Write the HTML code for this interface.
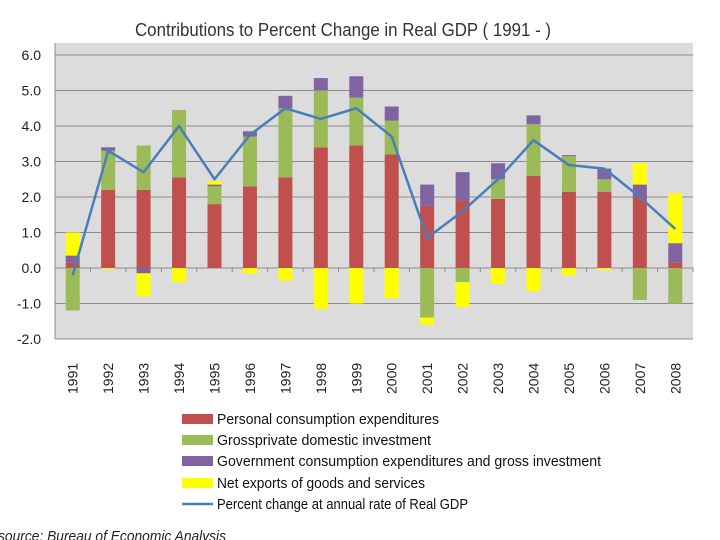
<!DOCTYPE html>
<html><head><meta charset="utf-8"><style>
html,body{margin:0;padding:0;background:#fff;}
svg{display:block;font-family:"Liberation Sans",sans-serif;}
</style></head><body>
<svg id="chart" width="720" height="540" viewBox="0 0 720 540">
<text x="343" y="36" text-anchor="middle" font-size="18" fill="#333" textLength="416" lengthAdjust="spacingAndGlyphs">Contributions to Percent Change in Real GDP ( 1991 -  )</text>
<rect x="55" y="43" width="638" height="296" fill="#dcdcdc"/>
<g id="grid"></g><g id="bars"></g><g id="line"></g><g id="xlabels"></g>
<g>
<rect x="182" y="414" width="31" height="10" fill="#c0504d"/>
<text x="217" y="424" font-size="15" fill="#111" textLength="222" lengthAdjust="spacingAndGlyphs">Personal consumption expenditures</text>
<rect x="182" y="435" width="31" height="10" fill="#9bbb59"/>
<text x="217" y="445" font-size="15" fill="#111" textLength="214" lengthAdjust="spacingAndGlyphs">Grossprivate domestic investment</text>
<rect x="182" y="456" width="31" height="10" fill="#8064a2"/>
<text x="217" y="466" font-size="15" fill="#111" textLength="384" lengthAdjust="spacingAndGlyphs">Government consumption expenditures and gross investment</text>
<rect x="182" y="478" width="31" height="10" fill="#ffff00"/>
<text x="217" y="488" font-size="15" fill="#111" textLength="208" lengthAdjust="spacingAndGlyphs">Net exports of goods and services</text>
<line x1="182" y1="504" x2="213" y2="504" stroke="#4a7ebb" stroke-width="2.5"/>
<text x="217" y="509" font-size="15" fill="#111" textLength="251" lengthAdjust="spacingAndGlyphs">Percent change at annual rate of Real GDP</text>
</g>
<text x="-2" y="541" font-size="15" font-style="italic" fill="#222" textLength="228" lengthAdjust="spacingAndGlyphs">source: Bureau of Economic Analysis</text>
</svg>
<script>
const years=["1991","1992","1993","1994","1995","1996","1997","1998","1999","2000","2001","2002","2003","2004","2005","2006","2007","2008"];
const consumption=[0.15,2.2,2.2,2.55,1.8,2.3,2.55,3.4,3.45,3.2,1.75,1.9,1.95,2.6,2.15,2.15,2.0,0.15];
const investment=[-1.2,1.1,1.25,1.9,0.5,1.4,1.95,1.6,1.35,0.95,-1.4,-0.4,0.55,1.45,1.0,0.35,-0.9,-1.0];
const government=[0.2,0.1,-0.15,0.0,0.05,0.15,0.35,0.35,0.6,0.4,0.6,0.8,0.45,0.25,0.03,0.3,0.35,0.55];
const netExports=[0.65,-0.03,-0.65,-0.4,0.1,-0.15,-0.35,-1.15,-1.0,-0.85,-0.2,-0.7,-0.45,-0.65,-0.2,-0.05,0.6,1.4];
const gdpChange=[-0.2,3.3,2.7,4.0,2.5,3.75,4.5,4.2,4.5,3.7,0.85,1.6,2.5,3.6,2.9,2.8,2.0,1.1];
const yTicks=[-2,-1,0,1,2,3,4,5,6];

const NS="http://www.w3.org/2000/svg";
const X0=55,X1=693,Y0=268,PPU=35.5;
const step=(X1-X0)/years.length;
const xs=i=>X0+step*(i+0.5);
const ys=v=>Y0-v*PPU;
function mk(tag,attrs,parent){const e=document.createElementNS(NS,tag);for(const k in attrs)e.setAttribute(k,attrs[k]);parent.appendChild(e);return e;}
const grid=document.getElementById('grid');
yTicks.forEach(t=>{
  const l=mk('line',{x1:X0,x2:X1,y1:ys(t),y2:ys(t),stroke:'#8c8c8c','stroke-width':1},grid);
  
  
  const tx=mk('text',{x:41,y:ys(t)+5,'text-anchor':'end','font-size':14,fill:'#222'},grid);
  tx.textContent=t.toFixed(1);
  
  
});
const ax=mk('line',{x1:X0,x2:X0,y1:43,y2:339,stroke:'#8c8c8c'},grid);


for(let i=0;i<=years.length;i++){
  const tk=mk('line',{x1:X0+step*i,x2:X0+step*i,y1:Y0,y2:Y0+4,stroke:'#8c8c8c'},grid);
  
  
}
const series=[[consumption,'#c0504d','bar-consumption'],[investment,'#9bbb59','bar-investment'],[government,'#8064a2','bar-government'],[netExports,'#ffff00','bar-net-exports']];
const bars=document.getElementById('bars');
const bw=14;
years.forEach((y,i)=>{
  let pos=0,neg=0;
  series.forEach(([arr,col,name])=>{
    const v=arr[i];let a,b;
    if(v>=0){a=pos;b=pos+v;pos=b;}else{a=neg;b=neg+v;neg=b;}
    const top=ys(Math.max(a,b)),h=Math.abs(v)*PPU;
    const r=mk('rect',{x:xs(i)-bw/2,y:top,width:bw,height:h,fill:col},bars);
    
    
  });
  const t=mk('text',{transform:`translate(${xs(i)+5},394) rotate(-90)`,'font-size':14,fill:'#222'},document.getElementById('xlabels'));
  t.textContent=y;
  
  
});
const pts=gdpChange.map((v,i)=>xs(i)+','+ys(v)).join(' ');
const pl=mk('polyline',{points:pts,fill:'none',stroke:'#4a7ebb','stroke-width':2.5,'stroke-linejoin':'round'},document.getElementById('line'));


</script>
</body></html>
